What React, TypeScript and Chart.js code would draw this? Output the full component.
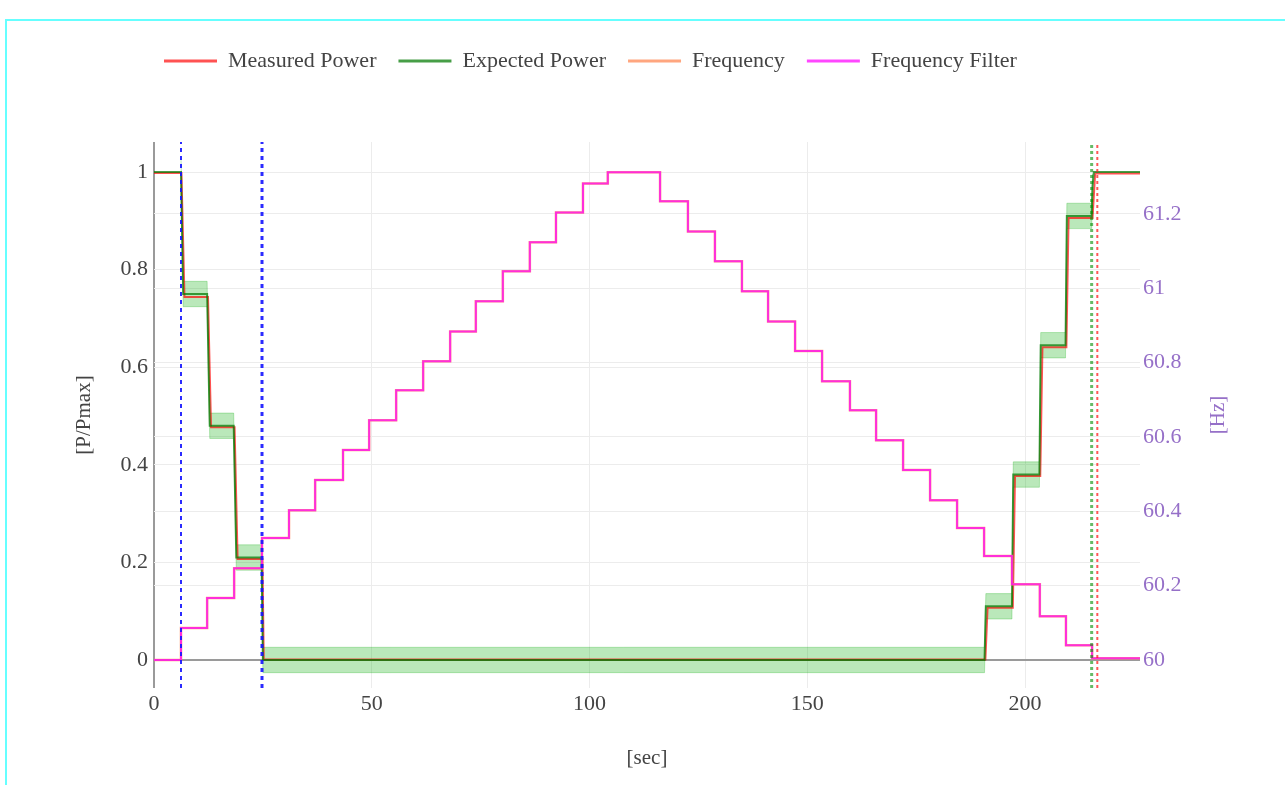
import React, { useEffect, useRef } from 'react';
import { Chart, registerables } from 'chart.js';

Chart.register(...registerables);

// Axis ranges
const TIME_MAX = 226.4;
const POWER_MIN = -0.0574;
const POWER_MAX = 1.0615;
const FREQ_MIN = 59.9247;
const FREQ_MAX = 61.3936;

// Expected active power [P/Pmax] vs time [sec]
const EXPECTED_T = [0, 6.2, 6.7, 12.2, 12.8, 18.3, 18.9, 24.7, 25.0, 190.7, 191.0, 197.0, 197.3, 203.3, 203.6, 209.3, 209.6, 215.3, 215.5, 215.8, 226.4];
const EXPECTED_P = [1, 1, 0.75, 0.75, 0.48, 0.48, 0.21, 0.21, 0, 0, 0.11, 0.11, 0.38, 0.38, 0.645, 0.645, 0.91, 0.91, 0.97, 1, 1];

// Measured active power [P/Pmax] vs time [sec]
const MEASURED_T = [0, 6.3, 7.0, 12.4, 13.1, 18.5, 19.2, 24.9, 25.2, 190.9, 191.4, 197.2, 197.7, 203.5, 204.0, 209.5, 210.0, 215.5, 216.1, 226.4];
const MEASURED_P = [0.998, 0.998, 0.744, 0.744, 0.477, 0.477, 0.207, 0.207, 0.001, 0.001, 0.107, 0.107, 0.377, 0.377, 0.641, 0.641, 0.906, 0.906, 0.997, 0.997];

// Tolerance band around the expected power
const BAND_T = [6.2, 6.7, 12.2, 12.8, 18.3, 18.9, 24.7, 25.0, 190.7, 191.0, 197.0, 197.3, 203.3, 203.6, 209.3, 209.6, 215.3, 215.5];
const BAND_UPPER = [1.026, 0.776, 0.776, 0.506, 0.506, 0.236, 0.236, 0.026, 0.026, 0.136, 0.136, 0.406, 0.406, 0.671, 0.671, 0.936, 0.936, 0.996];
const BAND_LOWER = [0.974, 0.724, 0.724, 0.454, 0.454, 0.184, 0.184, -0.026, -0.026, 0.084, 0.084, 0.354, 0.354, 0.619, 0.619, 0.884, 0.884, 0.944];

// Grid frequency [Hz]: each value holds until the next time
const FREQ_T = [0, 6.2, 12.2, 18.4, 24.8, 31.0, 37.0, 43.4, 49.4, 55.6, 61.8, 68.0, 73.9, 80.1, 86.3, 92.3, 98.5, 104.2, 116.2, 122.6, 128.8, 135.0, 141.0, 147.2, 153.4, 159.8, 165.8, 172.0, 178.2, 184.4, 190.6, 197.0, 203.4, 209.4, 215.4, 226.4];
const FREQ_HZ = [60.0, 60.086, 60.167, 60.247, 60.328, 60.403, 60.484, 60.565, 60.645, 60.726, 60.804, 60.884, 60.965, 61.046, 61.124, 61.204, 61.282, 61.312, 61.234, 61.153, 61.073, 60.992, 60.911, 60.831, 60.75, 60.672, 60.591, 60.511, 60.43, 60.355, 60.28, 60.204, 60.118, 60.04, 60.005, 60.005];

// Event markers [sec]
const START_MARKERS = [6.2, 24.8];
const END_MARKER_EXPECTED = 215.3;
const END_MARKER_MEASURED = 216.6;

const SERIES_LABELS = ['Measured Power', 'Expected Power', 'Frequency', 'Frequency Filter'];
const SERIES_COLORS = ['rgba(255,0,0,0.68)', 'rgba(0,120,0,0.72)', 'rgba(255,150,105,0.85)', 'rgba(255,0,255,0.72)'];

const FONT = 'Liberation Serif';
const TEXT = '#444';
const PURPLE = 'rgb(150,112,200)';
const GRID = '#ececec';
const ZERO = '#9a9a9a';

const pts = (xs: number[], ys: number[]) => xs.map((x, i) => ({ x, y: ys[i] }));
const marker = (t: number) => [{ x: t, y: POWER_MIN }, { x: t, y: POWER_MAX }];
// Tick text without trailing zeros: 1, 0.8, 61, 60.2
const plain = (v: any) => String(Math.round(Number(v) * 1000) / 1000);

// Places the legend row at the top-left of the figure
const legendPlacement = {
  id: 'legendPlacement',
  afterLayout(chart: any) {
    const lg = chart.legend;
    if (!lg) return;
    const h = lg.height;
    lg.left = 142;
    lg.right = chart.width;
    lg.top = 28;
    lg.bottom = 28 + h;
  },
};

// Right-hand axis title, read bottom-to-top
const hzTitle = {
  id: 'hzTitle',
  afterDraw(chart: any) {
    const s = chart.scales.yF;
    const { ctx, chartArea } = chart;
    ctx.save();
    ctx.font = `21px "${FONT}"`;
    ctx.fillStyle = PURPLE;
    ctx.textAlign = 'center';
    ctx.textBaseline = 'middle';
    ctx.translate(s.left + 78, (chartArea.top + chartArea.bottom) / 2);
    ctx.rotate(-Math.PI / 2);
    ctx.fillText('[Hz]', 0, 0);
    ctx.restore();
  },
};

export default function App() {
  const canvasRef = useRef<HTMLCanvasElement | null>(null);

  useEffect(() => {
    const canvas = canvasRef.current;
    if (!canvas) return;
    const tickFont = { family: FONT, size: 22 };
    const titleFont = { family: FONT, size: 21 };

    const chart = new Chart(canvas, {
      type: 'line',
      data: {
        datasets: [
          {
            label: SERIES_LABELS[0],
            data: pts(MEASURED_T, MEASURED_P),
            borderColor: SERIES_COLORS[0],
            borderWidth: 2,
            pointRadius: 0,
            yAxisID: 'yP',
            order: 5,
          },
          {
            label: SERIES_LABELS[1],
            data: pts(EXPECTED_T, EXPECTED_P),
            borderColor: SERIES_COLORS[1],
            borderWidth: 2,
            pointRadius: 0,
            yAxisID: 'yP',
            order: 4,
          },
          {
            label: SERIES_LABELS[2],
            data: pts(FREQ_T, FREQ_HZ),
            borderColor: SERIES_COLORS[2],
            borderWidth: 2.5,
            pointRadius: 0,
            stepped: 'before',
            yAxisID: 'yF',
            order: 3,
          },
          {
            label: SERIES_LABELS[3],
            data: pts(FREQ_T, FREQ_HZ),
            borderColor: SERIES_COLORS[3],
            borderWidth: 2,
            pointRadius: 0,
            stepped: 'before',
            yAxisID: 'yF',
            order: 2,
          },
          {
            label: 'band upper',
            data: pts(BAND_T, BAND_UPPER),
            borderColor: 'rgba(0,170,0,0.25)',
            borderWidth: 1,
            pointRadius: 0,
            fill: false,
            yAxisID: 'yP',
            order: 9,
          },
          {
            label: 'band lower',
            data: pts(BAND_T, BAND_LOWER),
            borderColor: 'rgba(0,170,0,0.25)',
            backgroundColor: 'rgba(0,170,0,0.27)',
            borderWidth: 1,
            pointRadius: 0,
            fill: '-1',
            yAxisID: 'yP',
            order: 8,
          },
          ...START_MARKERS.map((t, i) => ({
            label: 'start ' + i,
            data: marker(t),
            borderColor: 'rgba(20,20,255,0.9)',
            borderWidth: i === 0 ? 2 : 3,
            borderDash: [4, 4],
            pointRadius: 0,
            yAxisID: 'yP',
            order: 1,
          })),
          {
            label: 'end expected',
            data: marker(END_MARKER_EXPECTED),
            borderColor: 'rgba(0,140,0,0.6)',
            borderWidth: 3,
            borderDash: [3, 3],
            pointRadius: 0,
            yAxisID: 'yP',
            order: 1,
          },
          {
            label: 'end measured',
            data: marker(END_MARKER_MEASURED),
            borderColor: 'rgba(255,30,30,0.75)',
            borderWidth: 2,
            borderDash: [3, 3],
            pointRadius: 0,
            yAxisID: 'yP',
            order: 1,
          },
        ],
      },
      options: {
        animation: false,
        responsive: false,
        maintainAspectRatio: false,
        events: [],
        layout: { padding: { top: 88, left: 0, right: 0, bottom: 0 } },
        elements: { line: { tension: 0 } },
        plugins: {
          tooltip: { enabled: false },
          legend: {
            position: 'top',
            align: 'start',
            labels: {
              font: { family: FONT, size: 22 },
              color: TEXT,
              boxWidth: 53,
              boxHeight: 3,
              padding: 22,
              generateLabels: () =>
                SERIES_LABELS.map((text, i) => ({
                  text,
                  fillStyle: SERIES_COLORS[i],
                  strokeStyle: SERIES_COLORS[i],
                  lineWidth: 0,
                  hidden: false,
                  datasetIndex: i,
                  fontColor: TEXT,
                })),
            },
          },
        },
        scales: {
          x: {
            type: 'linear',
            min: 0,
            max: TIME_MAX,
            ticks: { stepSize: 50, includeBounds: false, autoSkip: false, maxRotation: 0, padding: 3, color: TEXT, font: tickFont, callback: plain },
            grid: {
              drawTicks: false,
              color: (c: any) => (c.tick && c.tick.value === 0 ? ZERO : GRID),
              lineWidth: (c: any) => (c.tick && c.tick.value === 0 ? 2 : 1),
            },
            border: { display: false },
            title: { display: true, text: '[sec]', color: TEXT, font: titleFont, padding: { top: 0, bottom: 14 } },
            afterFit: (s: any) => {
              s.height = 97;
            },
          },
          yP: {
            type: 'linear',
            position: 'left',
            min: POWER_MIN,
            max: POWER_MAX,
            ticks: { stepSize: 0.2, includeBounds: false, autoSkip: false, padding: 6, color: TEXT, font: tickFont, callback: plain },
            grid: {
              drawTicks: false,
              color: (c: any) => (c.tick && Math.abs(c.tick.value) < 1e-9 ? ZERO : GRID),
              lineWidth: (c: any) => (c.tick && Math.abs(c.tick.value) < 1e-9 ? 2 : 1),
            },
            border: { display: false },
            title: { display: true, text: '[P/Pmax]', color: TEXT, font: titleFont, padding: { top: 72, bottom: 0 } },
            afterFit: (s: any) => {
              s.width = 154;
            },
          },
          yF: {
            type: 'linear',
            position: 'right',
            min: FREQ_MIN,
            max: FREQ_MAX,
            ticks: { stepSize: 0.2, includeBounds: false, autoSkip: false, padding: 3, color: PURPLE, font: tickFont, callback: plain },
            grid: {
              drawTicks: false,
              color: (c: any) => (c.tick && Math.abs(c.tick.value - 60) < 1e-6 ? 'rgba(0,0,0,0)' : GRID),
            },
            border: { display: false },
            afterFit: (s: any) => {
              s.width = 145;
            },
          },
        },
      } as any,
      plugins: [legendPlacement, hzTitle],
    });

    return () => chart.destroy();
  }, []);

  return (
    <div style={{ position: 'fixed', left: 0, top: 0, width: 1285, height: 785, overflow: 'hidden', background: '#fff' }}>
      <div
        style={{
          position: 'absolute',
          left: 5,
          top: 19,
          width: 1400,
          height: 900,
          borderTop: '2px solid #6ff',
          borderLeft: '2px solid #6ff',
        }}
      />
      <canvas
        ref={canvasRef}
        width={1285}
        height={785}
        style={{ position: 'absolute', left: 0, top: 0, width: 1285, height: 785 }}
      />
    </div>
  );
}
